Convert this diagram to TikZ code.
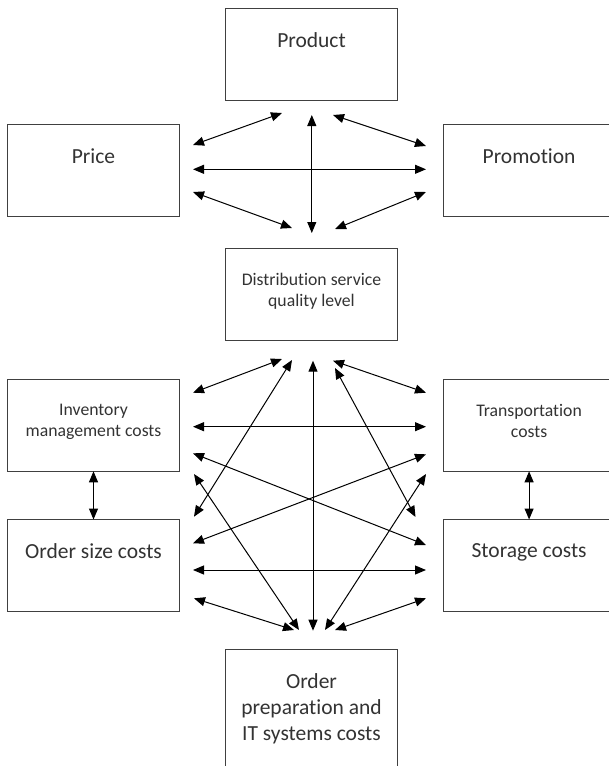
\documentclass[tikz,border=0pt]{standalone}
\usepackage{fontspec}
\setmainfont{Carlito}[Ligatures=NoCommon]
\usetikzlibrary{arrows.meta}

\begin{document}
\begin{tikzpicture}[x=1pt,y=-1pt,
        box/.style={draw=black!75, line width=1.4pt, minimum width=171.6pt, minimum height=92pt, anchor=north west, outer sep=0pt, inner sep=0pt},
        big/.style={anchor=north, align=center, inner sep=0pt, text=black!80, font=\fontsize{21.5}{26}\selectfont},
        small/.style={anchor=north, align=center, inner sep=0pt, text=black!80, font=\fontsize{17.7}{21}\selectfont},
        link/.style={{Triangle[length=11pt,width=9pt]}-{Triangle[length=11pt,width=9pt]}, line width=1pt}]
        \useasboundingbox (0,0) rectangle (609,766);
        \fill[white] (0,0) rectangle (609,766);
        \clip (0,0) rectangle (609,766);
        % boxes
        \node[box] (product) at (225.7,8.3) {};
        \node[box] (price) at (7.7,124.5) {};
        \node[box] (promo) at (443.3,124.5) {};
        \node[box] (dist) at (225.7,248.3) {};
        \node[box] (inv) at (7.7,379.3) {};
        \node[box] (trans) at (443.3,379.3) {};
        \node[box] (osize) at (7.7,519.5) {};
        \node[box] (store) at (443.3,519.5) {};
        \node[box, minimum height=140pt] (oprep) at (225.7,649.3) {};
        % texts
        \node[big] (product-t) at ([yshift=-24pt]product.north) {Product};
        \node[big] (price-t) at ([yshift=-24pt]price.north) {Price};
        \node[big] (promo-t) at ([yshift=-24pt]promo.north) {Promotion};
        \node[small] (dist-t) at ([yshift=-25pt]dist.north) {Distribution service\\quality level};
        \node[small] (inv-t) at ([yshift=-25pt]inv.north) {Inventory\\management costs};
        \node[small] (trans-t) at ([yshift=-25pt]trans.north) {Transportation\\costs};
        \node[big] (osize-t) at ([yshift=-24pt]osize.north) {Order size costs};
        \node[big] (store-t) at ([yshift=-24pt]store.north) {Storage costs};
        \node[big] (oprep-t) at ([yshift=-24pt]oprep.north) {Order\\preparation and\\IT systems costs};
        % arrow ends
        \coordinate (price-1) at (193,145);
        \coordinate (price-2) at (193,169.3);
        \coordinate (price-3) at (193,192);
        \coordinate (product-1) at (282,113);
        \coordinate (product-2) at (311.8,115);
        \coordinate (product-3) at (333,115);
        \coordinate (promo-1) at (426,146);
        \coordinate (promo-2) at (426,169.3);
        \coordinate (promo-3) at (426,192);
        \coordinate (dist-1) at (292,228);
        \coordinate (dist-2) at (311.8,233);
        \coordinate (dist-3) at (335,229);
        \coordinate (dist-4) at (282,359);
        \coordinate (dist-5) at (292,360);
        \coordinate (dist-6) at (313,360.7);
        \coordinate (dist-7) at (335,368);
        \coordinate (dist-8) at (333,360.7);
        \coordinate (inv-1) at (193,392.7);
        \coordinate (inv-2) at (193,426.7);
        \coordinate (inv-3) at (193,453.3);
        \coordinate (inv-4) at (194,474);
        \coordinate (trans-1) at (426,392.7);
        \coordinate (trans-2) at (426,426.7);
        \coordinate (trans-3) at (426,454.3);
        \coordinate (trans-4) at (426,474);
        \coordinate (osize-1) at (194,516.7);
        \coordinate (osize-2) at (193,543.3);
        \coordinate (osize-3) at (193,570);
        \coordinate (osize-4) at (194,598.3);
        \coordinate (store-1) at (415.5,517);
        \coordinate (store-2) at (426,545);
        \coordinate (store-3) at (426,570);
        \coordinate (store-4) at (426,598.3);
        \coordinate (oprep-1) at (294,630);
        \coordinate (oprep-2) at (299,630);
        \coordinate (oprep-3) at (313,630.7);
        \coordinate (oprep-4) at (325,630);
        \coordinate (oprep-5) at (335,630);
        % marketing mix
        \draw[link] (price-1) -- (product-1);
        \draw[link] (product-3) -- (promo-1);
        \draw[link] (price-2) -- (promo-2);
        \draw[link] (price-3) -- (dist-1);
        \draw[link] (dist-3) -- (promo-3);
        \draw[link] (product-2) -- (dist-2);
        % costs
        \draw[link] (inv-1) -- (dist-4);
        \draw[link] (dist-8) -- (trans-1);
        \draw[link] (inv-2) -- (trans-2);
        \draw[link] (inv-3) -- (store-2);
        \draw[link] (osize-2) -- (trans-3);
        \draw[link] (inv-4) -- (oprep-2);
        \draw[link] (osize-1) -- (dist-5);
        \draw[link] (trans-4) -- (oprep-4);
        \draw[link] (store-1) -- (dist-7);
        \draw[link] (osize-3) -- (store-3);
        \draw[link] (osize-4) -- (oprep-1);
        \draw[link] (store-4) -- (oprep-5);
        \draw[link] (dist-6) -- (oprep-3);
        \draw[link] (inv) -- (osize);
        \draw[link] (trans) -- (store);
    \end{tikzpicture}
\end{document}
